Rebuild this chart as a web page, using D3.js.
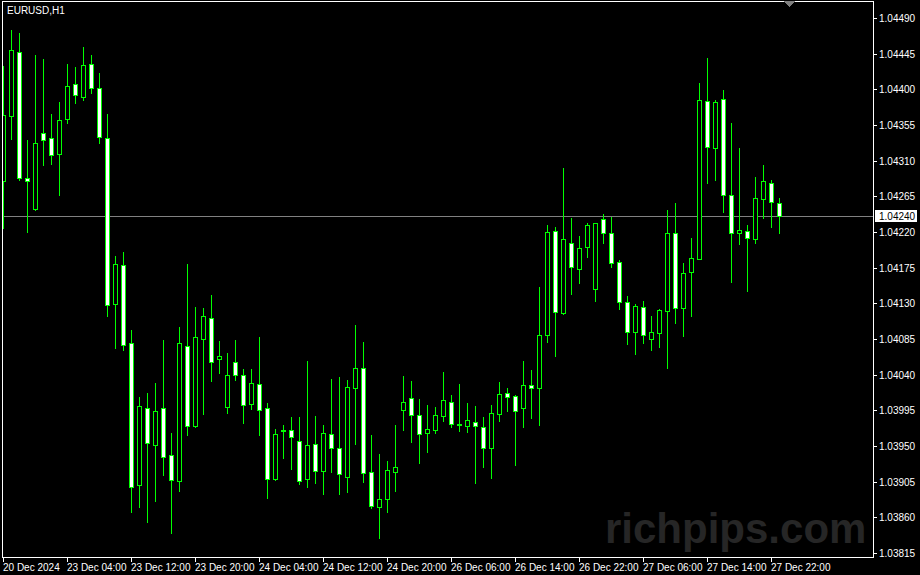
<!DOCTYPE html>
<html>
<head>
<meta charset="utf-8">
<script src="https://d3js.org/d3.v7.min.js"></script>
<style>
  html, body { margin: 0; padding: 0; background: #000; }
  svg { display: block; }
  text { font-family: "Liberation Sans", Arial, sans-serif; }
  line, rect, path { shape-rendering: crispEdges; }
</style>
</head>
<body>
<div id="chart"></div>
<script>
// EURUSD H1 candles, one entry per bar
var symbol = "EURUSD,H1";

var opens = [1.04284,1.04366,1.04447,1.04288,1.04249,1.04345,1.04339,1.04318,1.04363,1.04407,
  1.04390,1.04432,1.04402,1.04339,1.04129,1.04178,1.04080,1.03901,1.03998,1.03951,
  1.03998,1.03939,1.03906,1.04076,1.03975,1.04085,1.04111,1.04060,1.03999,1.04056,
  1.04040,1.04003,1.04028,1.03998,1.03908,1.03969,1.03970,1.03956,1.03908,1.03953,
  1.03918,1.03965,1.03947,1.03911,1.04023,1.04048,1.03917,1.03873,1.03883,1.03917,
  1.03995,1.04011,1.03989,1.03966,1.03970,1.03988,1.04005,1.03978,1.03975,1.03980,
  1.03974,1.03947,1.03990,1.04017,1.04013,1.03998,1.04027,1.04023,1.04090,1.04221,
  1.04118,1.04206,1.04173,1.04201,1.04148,1.04236,1.04219,1.04182,1.04132,1.04094,
  1.04125,1.04085,1.04093,1.04120,1.04219,1.04124,1.04170,1.04186,1.04385,1.04326,
  1.04388,1.04267,1.04219,1.04221,1.04211,1.04262,1.04282,1.04257];

var highs = [1.04429,1.04475,1.04471,1.04336,1.04443,1.04438,1.04369,1.04384,1.04432,1.04428,
  1.04453,1.04443,1.04421,1.04369,1.04190,1.04195,1.04096,1.04012,1.04017,1.04029,
  1.04084,1.03966,1.04100,1.04180,1.04125,1.04124,1.04141,1.04082,1.04067,1.04084,
  1.04047,1.04047,1.04088,1.04004,1.03971,1.03976,1.03987,1.03987,1.04057,1.03988,
  1.03976,1.04035,1.04037,1.04033,1.04103,1.04081,1.03964,1.03940,1.03931,1.03976,
  1.04038,1.04032,1.04009,1.04002,1.03999,1.04043,1.04014,1.04028,1.04004,1.04000,
  1.03987,1.04002,1.04031,1.04023,1.04014,1.04057,1.04046,1.04151,1.04229,1.04226,
  1.04301,1.04238,1.04215,1.04231,1.04231,1.04243,1.04239,1.04185,1.04139,1.04129,
  1.04133,1.04114,1.04123,1.04248,1.04257,1.04181,1.04212,1.04408,1.04440,1.04387,
  1.04399,1.04358,1.04326,1.04229,1.04289,1.04305,1.04286,1.04263];

var lows = [1.04225,1.04337,1.04286,1.04220,1.04248,1.04305,1.04306,1.04267,1.04358,1.04383,
  1.04387,1.04395,1.04332,1.04114,1.04074,1.04071,1.03867,1.03873,1.03854,1.03881,
  1.03913,1.03840,1.03893,1.03964,1.03974,1.03990,1.04032,1.04042,1.03992,1.04033,
  1.03979,1.03997,1.03964,1.03884,1.03907,1.03935,1.03921,1.03902,1.03898,1.03903,
  1.03889,1.03917,1.03889,1.03892,1.03953,1.03905,1.03872,1.03834,1.03867,1.03893,
  1.03970,1.03955,1.03929,1.03942,1.03966,1.03982,1.03974,1.03969,1.03968,1.03903,
  1.03923,1.03910,1.03982,1.03994,1.03926,1.03974,1.03985,1.03976,1.04081,1.04064,
  1.04117,1.04142,1.04156,1.04188,1.04133,1.04206,1.04176,1.04123,1.04079,1.04066,
  1.04080,1.04071,1.04075,1.04048,1.04105,1.04089,1.04114,1.04186,1.04282,1.04286,
  1.04245,1.04157,1.04205,1.04146,1.04206,1.04238,1.04226,1.04219];

var closes = [1.04368,1.04450,1.04288,1.04284,1.04332,1.04336,1.04317,1.04361,1.04404,1.04393,
  1.04431,1.04402,1.04340,1.04128,1.04180,1.04077,1.03898,1.04000,1.03954,1.03994,
  1.03936,1.03907,1.04080,1.03975,1.04088,1.04114,1.04056,1.04064,1.04040,1.04040,
  1.04002,1.04029,1.03995,1.03908,1.03965,1.03970,1.03961,1.03906,1.03951,1.03918,
  1.03966,1.03947,1.03915,1.04024,1.04048,1.03916,1.03874,1.03883,1.03920,1.03923,
  1.04005,1.03989,1.03965,1.03971,1.03989,1.04008,1.03978,1.03976,1.03983,1.03975,
  1.03947,1.03992,1.04016,1.04012,1.03994,1.04027,1.04023,1.04090,1.04220,1.04119,
  1.04211,1.04176,1.04200,1.04229,1.04231,1.04219,1.04181,1.04132,1.04094,1.04127,
  1.04090,1.04094,1.04122,1.04219,1.04124,1.04168,1.04187,1.04387,1.04327,1.04384,
  1.04267,1.04219,1.04223,1.04212,1.04263,1.04284,1.04258,1.04240];

// one label every 8 bars, starting from the first bar
var timeLabels = ["20 Dec 2024","23 Dec 04:00","23 Dec 12:00","23 Dec 20:00","24 Dec 04:00",
  "24 Dec 12:00","24 Dec 20:00","26 Dec 06:00","26 Dec 14:00","26 Dec 22:00",
  "27 Dec 06:00","27 Dec 14:00","27 Dec 22:00"];

var priceTicks = [1.04490,1.04445,1.04400,1.04355,1.04310,1.04265,1.04220,1.04175,
  1.04130,1.04085,1.04040,1.03995,1.03950,1.03905,1.03860,1.03815];

var lastPrice = 1.04240;
var watermark = "richpips.com";

var W = 920, H = 575;
var pLeft = 2, pTop = 1, pRight = 873, pBottom = 557;

var svg = d3.select("#chart").append("svg")
  .attr("width", W).attr("height", H);

svg.append("rect").attr("width", W).attr("height", H).attr("fill", "#000");

var x = d3.scaleLinear()
  .domain([0, opens.length - 1])
  .range([3, 3 + 8 * (opens.length - 1)]);

var y = d3.scaleLinear()
  .domain([priceTicks[0], priceTicks[priceTicks.length - 1]])
  .range([18, 553]);

svg.append("clipPath").attr("id", "plot")
  .append("rect").attr("x", pLeft + 1).attr("y", pTop + 1)
  .attr("width", pRight - pLeft - 1).attr("height", pBottom - pTop - 1);

// watermark sits behind the candles
svg.append("text")
  .attr("x", 605).attr("y", 543)
  .attr("font-size", "42px").attr("font-weight", "bold")
  .attr("fill", "#262626")
  .text(watermark);

var plot = svg.append("g").attr("clip-path", "url(#plot)");

// bid line
plot.append("line")
  .attr("x1", pLeft).attr("x2", pRight)
  .attr("y1", Math.round(y(lastPrice)) + 0.5).attr("y2", Math.round(y(lastPrice)) + 0.5)
  .attr("stroke", "#808080").attr("stroke-width", 1);

var idx = d3.range(opens.length);

plot.selectAll("line.wick")
  .data(idx).enter().append("line")
  .attr("class", "wick")
  .attr("x1", function (i) { return Math.round(x(i)) + 0.5; })
  .attr("x2", function (i) { return Math.round(x(i)) + 0.5; })
  .attr("y1", function (i) { return Math.round(y(highs[i])); })
  .attr("y2", function (i) { return Math.round(y(lows[i])) + 1; })
  .attr("stroke", "#00ff00").attr("stroke-width", 1);

plot.selectAll("rect.body")
  .data(idx).enter().append("rect")
  .attr("class", "body")
  .attr("x", function (i) { return Math.round(x(i)) - 1.5; })
  .attr("y", function (i) { return Math.round(y(Math.max(opens[i], closes[i]))) + 0.5; })
  .attr("width", 4)
  .attr("height", function (i) {
    return Math.max(0, Math.round(y(Math.min(opens[i], closes[i]))) - Math.round(y(Math.max(opens[i], closes[i]))));
  })
  .attr("fill", function (i) { return closes[i] < opens[i] ? "#ffffff" : "#000000"; })
  .attr("stroke", "#00ff00").attr("stroke-width", 1);

// frame
svg.append("rect")
  .attr("x", pLeft + 0.5).attr("y", pTop + 0.5)
  .attr("width", pRight - pLeft).attr("height", pBottom - pTop)
  .attr("fill", "none").attr("stroke", "#ffffff").attr("stroke-width", 1);

// chart shift marker
svg.append("path")
  .attr("d", "M784,1 L795,1 L789.5,7 Z")
  .attr("fill", "#7f7f7f");

svg.append("text")
  .attr("x", 7).attr("y", 14)
  .attr("font-size", "10px").attr("fill", "#ffffff")
  .text(symbol);

// price axis
var pa = svg.append("g");
pa.selectAll("line")
  .data(priceTicks).enter().append("line")
  .attr("x1", pRight + 1).attr("x2", pRight + 4)
  .attr("y1", function (d) { return Math.round(y(d)) + 0.5; })
  .attr("y2", function (d) { return Math.round(y(d)) + 0.5; })
  .attr("stroke", "#ffffff");
pa.selectAll("text")
  .data(priceTicks).enter().append("text")
  .attr("x", 879)
  .attr("y", function (d) { return Math.round(y(d)) + 4; })
  .attr("font-size", "10px").attr("fill", "#ffffff")
  .text(function (d) { return d.toFixed(5); });

var ly = Math.round(y(lastPrice));
svg.append("rect")
  .attr("x", 875).attr("y", ly - 6)
  .attr("width", 42).attr("height", 12)
  .attr("fill", "#ffffff");
svg.append("text")
  .attr("x", 879).attr("y", ly + 4)
  .attr("font-size", "10px").attr("fill", "#000000")
  .text(lastPrice.toFixed(5));

// time axis
var ta = svg.append("g");
ta.selectAll("line")
  .data(timeLabels).enter().append("line")
  .attr("x1", function (d, k) { return Math.round(x(k * 8)) + 0.5; })
  .attr("x2", function (d, k) { return Math.round(x(k * 8)) + 0.5; })
  .attr("y1", pBottom + 1).attr("y2", pBottom + 5)
  .attr("stroke", "#ffffff");
ta.selectAll("text")
  .data(timeLabels).enter().append("text")
  .attr("x", function (d, k) { return Math.round(x(k * 8)); })
  .attr("y", 571)
  .attr("font-size", "10px").attr("fill", "#ffffff")
  .text(function (d) { return d; });
</script>
</body>
</html>
